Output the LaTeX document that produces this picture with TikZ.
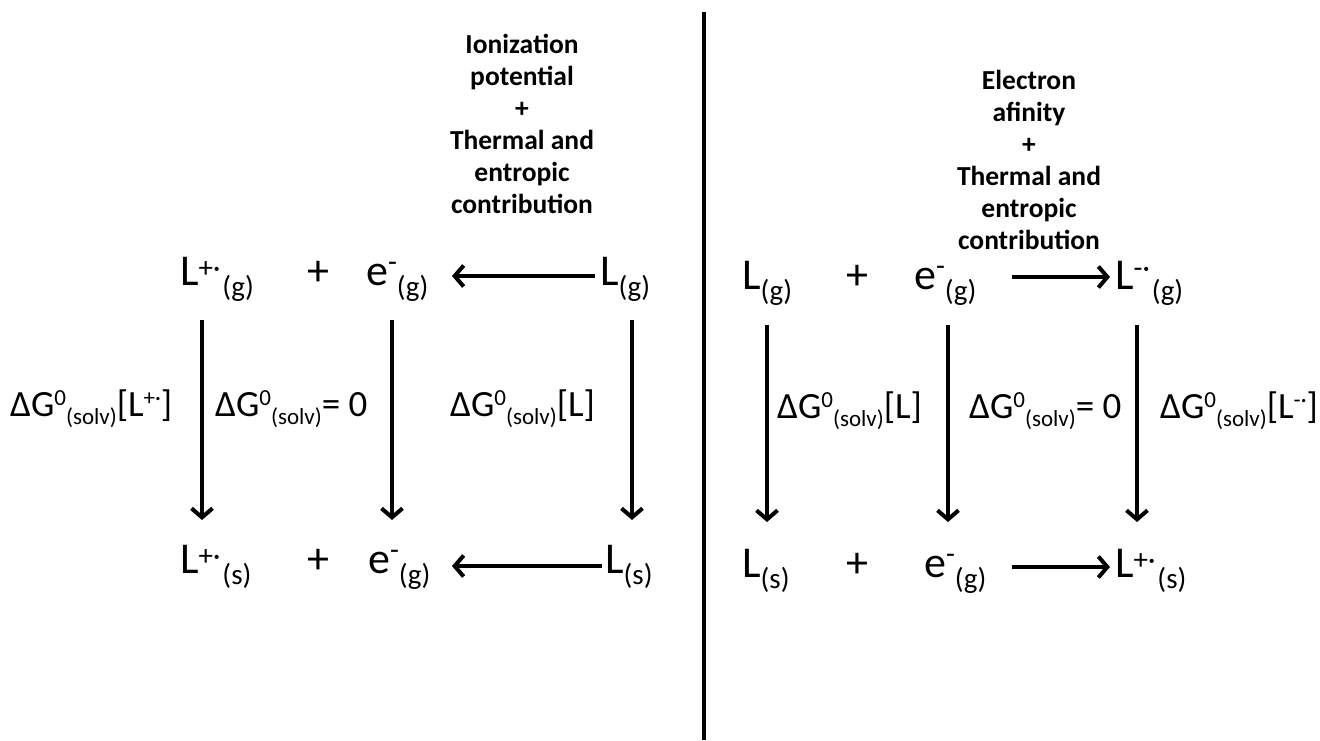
\documentclass[tikz,border=0pt]{standalone}
\usepackage{fontspec}
\setmainfont{Carlito}
\usetikzlibrary{arrows.meta}
\newcommand\fup[2]{\raisebox{#1pt}{\fontsize{29}{29}\selectfont #2}}
\newcommand\fdn[1]{\raisebox{-11pt}{\fontsize{29}{29}\selectfont #1}}
\newcommand\gup[1]{\raisebox{11pt}{\fontsize{23}{23}\selectfont #1}}
\newcommand\gdn[1]{\raisebox{-8pt}{\fontsize{23}{23}\selectfont #1}}
\newcommand\dG{ΔG\gup{0}\gdn{(solv)}}
\tikzset{
  x=1pt, y=-1pt,
  chem/.style={inner sep=0pt, anchor=base west, font=\fontsize{44}{44}\selectfont},
  lab/.style={inner sep=0pt, anchor=base west, font=\fontsize{37}{37}\selectfont},
  head/.style={inner sep=0pt, anchor=north, align=center, font=\fontsize{27.5}{32}\selectfont\bfseries},
  arr/.style={line width=4pt, -{Straight Barb[length=9pt,width=21pt]}},
  divider/.style={line width=4pt}
}
\begin{document}
\begin{tikzpicture}
\useasboundingbox (0,0) rectangle (1320,740);
% divider
\coordinate (dtop) at (704,12);
\coordinate (dbot) at (704,740);
\draw[divider] (dtop) -- (dbot);
% headers
\node[head] (hL) at (522,34) {Ionization\\potential\\+\\Thermal and\\entropic\\contribution};
\node[head] (hR) at (1029,70) {Electron\\afinity\\+\\Thermal and\\entropic\\contribution};
% left top row
\node[chem] (LpG) at (180,285) {L\fup{8}{+·}\hspace{2pt}\fdn{(g)}};
\node[chem] (p1) at (307,285) {+};
\node[chem] (e1) at (366,285) {e\fup{14}{-}\fdn{(g)}};
\node[chem] (LG) at (600,285) {L\fdn{(g)}};
% left bottom row
\node[chem] (LpS) at (180,573) {L\fup{8}{+·}\hspace{2pt}\fdn{(s)}};
\node[chem] (p2) at (307,573) {+};
\node[chem] (e2) at (368,573) {e\fup{14}{-}\fdn{(g)}};
\node[chem] (LS) at (605,573) {L\fdn{(s)}};
% right top row
\node[chem] (RG) at (742,289) {L\fdn{(g)}};
\node[chem] (p3) at (846,289) {+};
\node[chem] (e3) at (914,289) {e\fup{14}{-}\fdn{(g)}};
\node[chem] (LmG) at (1115,289) {L\fup{12}{-·}\hspace{2pt}\fdn{(g)}};
% right bottom row
\node[chem] (RS) at (742,577) {L\fdn{(s)}};
\node[chem] (p4) at (846,577) {+};
\node[chem] (e4) at (924,577) {e\fup{14}{-}\fdn{(g)}};
\node[chem] (LpS2) at (1115,577) {L\fup{8}{+·}\hspace{2pt}\fdn{(s)}};
% labels
\node[lab] (g1) at (10,416) {\dG[L\gup{+·}]};
\node[lab] (g2) at (215,416) {\dG= 0};
\node[lab] (g3) at (450,416) {\dG[L]};
\node[lab] (g4) at (777,418) {\dG[L]};
\node[lab] (g5) at (969,418) {\dG= 0};
\node[lab] (g6) at (1160,418) {\dG[L\gup{-·}]};
% horizontal arrow ends
\coordinate (a1s) at (595,276); \coordinate (a1e) at (452,276);
\coordinate (a2s) at (602,566); \coordinate (a2e) at (452,566);
\coordinate (a3s) at (1012,277); \coordinate (a3e) at (1110,277);
\coordinate (a4s) at (1012,567); \coordinate (a4e) at (1110,567);
\draw[arr] (a1s) -- (a1e);
\draw[arr] (a2s) -- (a2e);
\draw[arr] (a3s) -- (a3e);
\draw[arr] (a4s) -- (a4e);
% vertical arrows
\coordinate (v1s) at (202,320); \coordinate (v1e) at (202,520);
\coordinate (v2s) at (392,320); \coordinate (v2e) at (392,520);
\coordinate (v3s) at (632,320); \coordinate (v3e) at (632,520);
\coordinate (v4s) at (767,325); \coordinate (v4e) at (767,522);
\coordinate (v5s) at (948,325); \coordinate (v5e) at (948,522);
\coordinate (v6s) at (1137,325); \coordinate (v6e) at (1137,522);
\foreach \i in {1,...,6} \draw[arr] (v\i s) -- (v\i e);
\end{tikzpicture}
\end{document}
